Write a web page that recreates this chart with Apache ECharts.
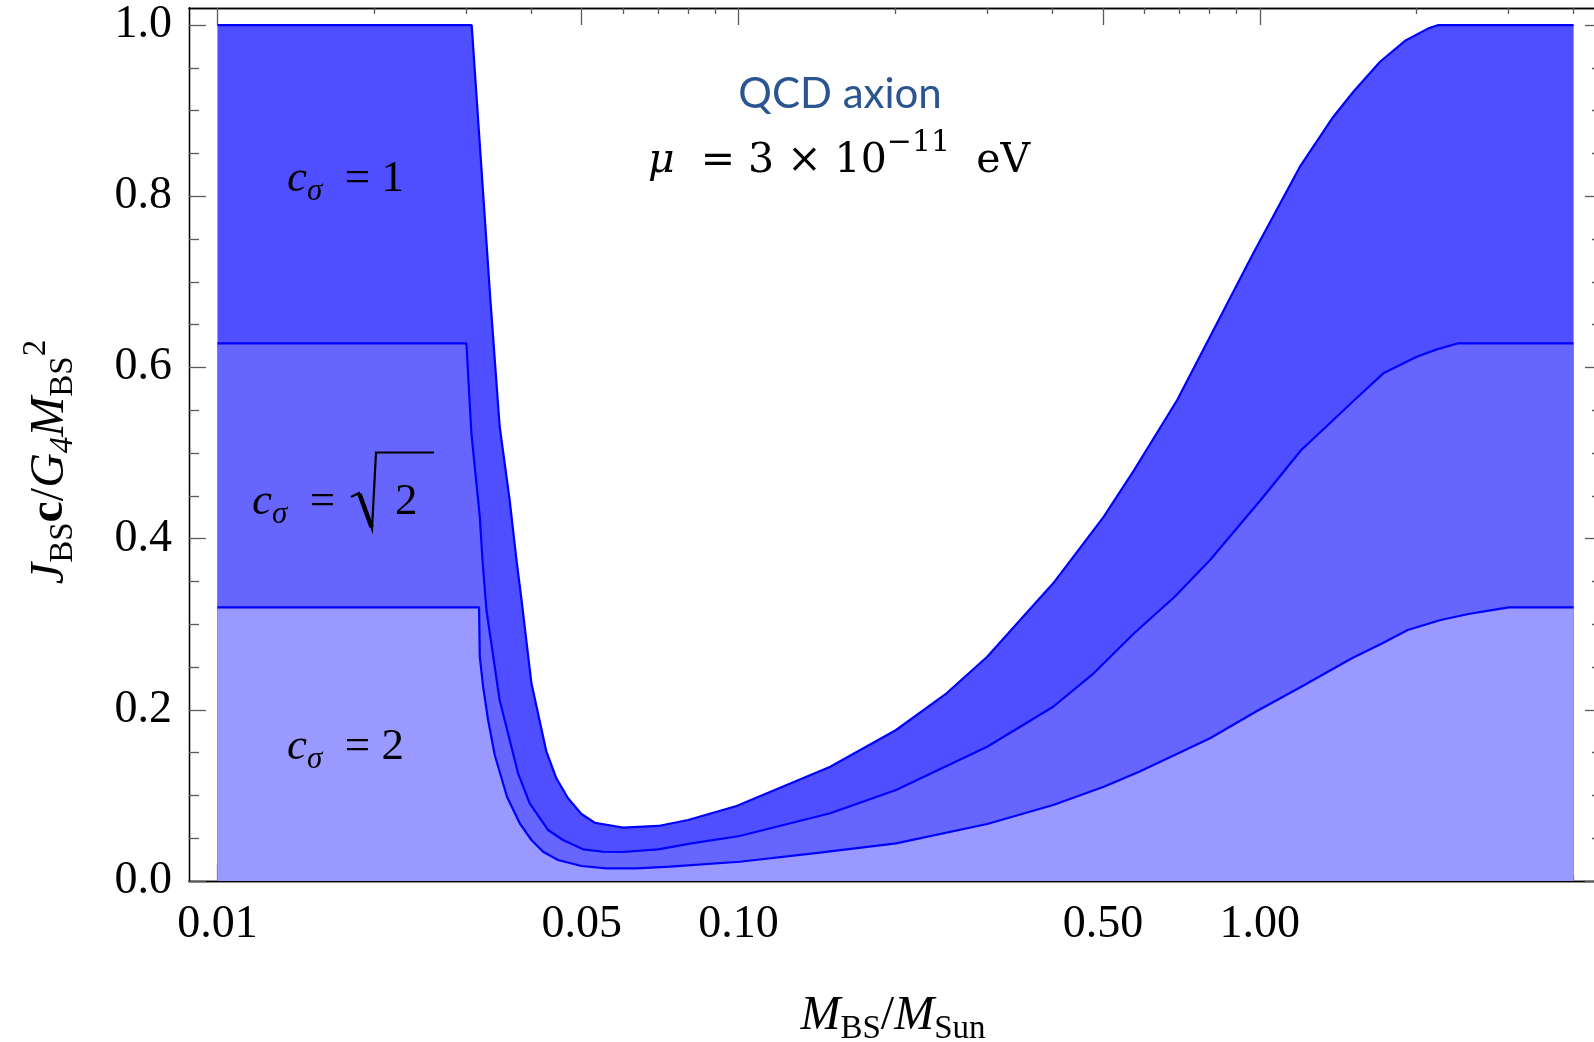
<!DOCTYPE html>
<html>
<head>
<meta charset="utf-8">
<script src="https://cdn.jsdelivr.net/npm/echarts@6/dist/echarts.min.js"></script>
<style>
  html, body { margin: 0; padding: 0; background: #ffffff; }
  #chart { width: 1594px; height: 1042px; }
</style>
</head>
<body>
<div id="chart"></div>
<script>
// Boson-star spin bound J_BS c / (G4 M_BS^2) against M_BS / M_Sun,
// QCD axion with mu = 3e-11 eV, for three values of c_sigma.

// c_sigma = 1 (upper edge of the darkest band)
const massC1 = [0.01, 0.03075, 0.0334, 0.0348, 0.03637, 0.03748, 0.0383, 0.04004, 0.04278, 0.04471,
  0.04707, 0.04994, 0.05297, 0.0600, 0.0701, 0.0800, 0.0991, 0.1499, 0.2005, 0.2506,
  0.2999, 0.3469, 0.4014, 0.5020, 0.5739, 0.6943, 0.8025, 0.9716, 1.194, 1.384,
  1.512, 1.701, 1.900, 2.106, 2.201, 4.0];
const spinC1 = [1.0, 1.0, 0.679, 0.531, 0.445, 0.375, 0.330, 0.231, 0.151, 0.120,
  0.0966, 0.0783, 0.0681, 0.0623, 0.0643, 0.0713, 0.0876, 0.1335, 0.1764, 0.2193,
  0.2620, 0.3049, 0.3478, 0.4256, 0.4801, 0.5619, 0.6359, 0.7333, 0.8345, 0.8929,
  0.9221, 0.9571, 0.9816, 0.9961, 1.0, 1.0];

// c_sigma = sqrt(2)
const massCr2 = [0.01, 0.03004, 0.03071, 0.03187, 0.03225, 0.03282, 0.03479, 0.03774, 0.03974, 0.04308,
  0.04603, 0.05029, 0.05493, 0.0600, 0.0701, 0.0812, 0.1005, 0.1499, 0.2005, 0.2999,
  0.4014, 0.4801, 0.5739, 0.6866, 0.8028, 1.004, 1.201, 1.405, 1.519, 1.726,
  2.001, 2.186, 2.404, 4.0];
const spinCr2 = [0.628, 0.628, 0.523, 0.4256, 0.375, 0.3166, 0.2114, 0.1258, 0.0908, 0.0596,
  0.0479, 0.0370, 0.0342, 0.0339, 0.0370, 0.0440, 0.0526, 0.0791, 0.1063, 0.1569,
  0.2036, 0.2426, 0.2894, 0.3321, 0.3750, 0.4451, 0.5035, 0.5424, 0.5619, 0.5931,
  0.6125, 0.6211, 0.6282, 0.6282];

// c_sigma = 2
const massC2 = [0.01, 0.03177, 0.03187, 0.03234, 0.03306, 0.03405, 0.03594, 0.03802, 0.04004, 0.04215,
  0.04502, 0.04994, 0.05577, 0.06368, 0.07379, 0.1005, 0.1432, 0.2005, 0.2999, 0.4014,
  0.5020, 0.5869, 0.6866, 0.8028, 0.9820, 1.201, 1.502, 1.719, 1.922, 2.223,
  2.514, 2.749, 3.007, 4.0];
const spinC2 = [0.3197, 0.3197, 0.262, 0.227, 0.1881, 0.1472, 0.0985, 0.0674, 0.0479, 0.0342,
  0.0245, 0.0175, 0.0148, 0.0148, 0.0167, 0.0225, 0.0331, 0.0440, 0.0666, 0.0888,
  0.1102, 0.1277, 0.1472, 0.1667, 0.1978, 0.2270, 0.2602, 0.2777, 0.2932, 0.3049,
  0.3119, 0.3158, 0.3197, 0.3197];

// Axis ticks
const xMajorTicks = [0.01, 0.05, 0.1, 0.5, 1];
const xMinorTicks = [0.02, 0.03, 0.04, 0.06, 0.07, 0.08, 0.09, 0.2, 0.3, 0.4, 0.6, 0.7, 0.8, 0.9, 2, 3, 4];
const yMajorTicks = [0, 0.2, 0.4, 0.6, 0.8, 1.0];
const yMinorTicks = [0.05, 0.1, 0.15, 0.25, 0.3, 0.35, 0.45, 0.5, 0.55, 0.65, 0.7, 0.75, 0.85, 0.9, 0.95];

// Plot range (mass axis is logarithmic, drawn as log10 on a value axis)
const massMin = 0.00882, massMax = 4.535;
const spinMin = 0, spinMax = 1.0199;

const lg = v => Math.log10(v);
const serif = '"Liberation Serif", "Times New Roman", serif';
const mathSerif = '"DejaVu Serif", "Liberation Serif", serif';
const tickGray = '#5a5a5a';

function massAxis(position, ticks, len, withLabels) {
  return {
    type: 'value', position, min: lg(massMin), max: lg(massMax),
    axisLine: { show: true, onZero: false, lineStyle: { color: '#000', width: 1.3 } },
    axisTick: { show: true, inside: true, length: len, customValues: ticks.map(lg),
      lineStyle: { color: tickGray, width: 1.3 } },
    axisLabel: withLabels ? {
      show: true, customValues: ticks.map(lg), margin: 21,
      formatter: v => Math.pow(10, v).toFixed(2),
      fontFamily: serif, fontSize: 46, color: '#000'
    } : { show: false },
    splitLine: { show: false }
  };
}

function spinAxis(position, ticks, len, withLabels) {
  return {
    type: 'value', position, min: spinMin, max: spinMax,
    axisLine: { show: true, onZero: false, lineStyle: { color: '#000', width: 1.3 } },
    axisTick: { show: true, inside: true, length: len, customValues: ticks,
      lineStyle: { color: tickGray, width: 1.3 } },
    axisLabel: withLabels ? {
      show: true, customValues: ticks, margin: 17,
      formatter: v => v.toFixed(1),
      fontFamily: serif, fontSize: 46, color: '#000'
    } : { show: false },
    splitLine: { show: false }
  };
}

function band(name, mass, spin, fill) {
  return {
    type: 'line', name,
    data: mass.map((m, i) => [lg(m), spin[i]]),
    xAxisIndex: 0, yAxisIndex: 0,
    symbol: 'none', showSymbol: false, smooth: false, silent: true,
    lineStyle: { color: '#0000ff', width: 2.2 },
    areaStyle: { color: fill, opacity: 1, origin: 'start' },
    emphasis: { disabled: true }
  };
}

// Rich-text styles for the math labels
function richSet(family, main, sub, line) {
  return {
    it: { fontFamily: family, fontStyle: 'italic', fontSize: main, lineHeight: line, fill: '#000' },
    rm: { fontFamily: family, fontSize: main, lineHeight: line, fill: '#000' },
    bf: { fontFamily: family, fontWeight: 'bold', fontSize: main, lineHeight: line, fill: '#000' },
    sub: { fontFamily: family, fontSize: sub, lineHeight: sub, verticalAlign: 'bottom', fill: '#000' },
    subit: { fontFamily: family, fontStyle: 'italic', fontSize: sub, lineHeight: sub, verticalAlign: 'bottom', fill: '#000' },
    sup: { fontFamily: family, fontSize: sub, lineHeight: sub, verticalAlign: 'top', fill: '#000' }
  };
}
const richAxis = richSet(serif, 48, 33, 60);
const richLabel = richSet(serif, 45, 31, 56);
const richMu = richSet(mathSerif, 41, 30, 65);

const chart = echarts.init(document.getElementById('chart'), null, { renderer: 'canvas' });
chart.setOption({
  animation: false,
  backgroundColor: '#ffffff',
  grid: { left: 189, right: -8, top: 8, bottom: 161, containLabel: false, outerBoundsMode: 'none' },
  xAxis: [
    massAxis('bottom', xMajorTicks, 17, true),
    massAxis('bottom', xMinorTicks, 6, false),
    massAxis('top', xMajorTicks, 17, false),
    massAxis('top', xMinorTicks, 6, false)
  ],
  yAxis: [
    spinAxis('left', yMajorTicks, 17, true),
    spinAxis('left', yMinorTicks, 10, false),
    spinAxis('right', yMajorTicks, 17, false),
    spinAxis('right', yMinorTicks, 10, false)
  ],
  series: [
    band('c_sigma = 1', massC1, spinC1, '#4f4fff'),
    band('c_sigma = sqrt2', massCr2, spinCr2, '#6666ff'),
    band('c_sigma = 2', massC2, spinC2, '#9999ff')
  ],
  graphic: [
    // vertical axis title
    { type: 'text', x: 50, y: 462, rotation: Math.PI / 2, silent: true, z: 100,
      style: { text: '{it|J}{sub|BS}{bf|c}{rm|/}{it|G}{subit|4}{it|M}{sub|BS}{sup|2}',
        align: 'center', verticalAlign: 'middle', rich: richAxis } },
    // horizontal axis title
    { type: 'text', x: 893, y: 1016, silent: true, z: 100,
      style: { text: '{it|M}{sub|BS}{rm|/}{it|M}{sub|Sun}',
        align: 'center', verticalAlign: 'middle', rich: richAxis } },
    // model annotation
    { type: 'text', x: 840, y: 94, silent: true, z: 100,
      style: { text: 'QCD axion', align: 'center', verticalAlign: 'middle',
        fontFamily: 'Lato, "Open Sans", sans-serif', fontSize: 42, fill: '#2a5590' } },
    { type: 'text', x: 839, y: 161, silent: true, z: 100,
      style: { text: '{it|μ}{rm|  = 3 × 10}{sup|−11}{rm|  eV}',
        align: 'center', verticalAlign: 'middle', rich: richMu } },
    // band labels
    { type: 'text', x: 287, y: 179, silent: true, z: 100,
      style: { text: '{it|c}{subit|σ}{rm|  = 1}', align: 'left', verticalAlign: 'middle', rich: richLabel } },
    { type: 'text', x: 252, y: 502, silent: true, z: 100,
      style: { text: '{it|c}{subit|σ}{rm|  =}', align: 'left', verticalAlign: 'middle', rich: richLabel } },
    { type: 'text', x: 395, y: 502, silent: true, z: 100,
      style: { text: '{rm|2}', align: 'left', verticalAlign: 'middle', rich: richLabel } },
    { type: 'polyline', silent: true, z: 100,
      shape: { points: [[351, 497], [359, 493], [372, 529], [376, 452.5], [434, 452.5]] },
      style: { stroke: '#000', lineWidth: 2.2, fill: null, lineJoin: 'miter' } },
    { type: 'line', silent: true, z: 100,
      shape: { x1: 359.5, y1: 494, x2: 371.5, y2: 527 },
      style: { stroke: '#000', lineWidth: 4.5 } },
    { type: 'text', x: 287, y: 747, silent: true, z: 100,
      style: { text: '{it|c}{subit|σ}{rm|  = 2}', align: 'left', verticalAlign: 'middle', rich: richLabel } }
  ]
});
</script>
</body>
</html>
